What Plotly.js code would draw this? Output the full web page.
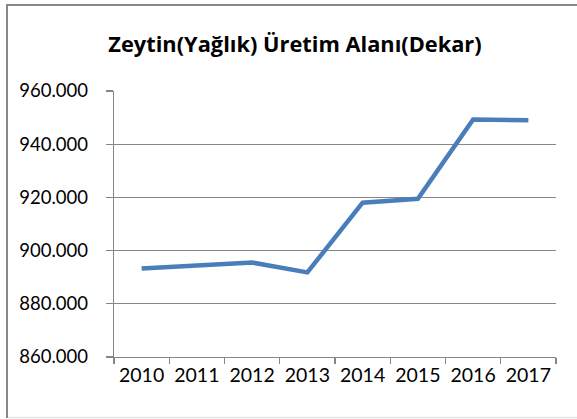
<!DOCTYPE html>
<html>
<head>
<meta charset="utf-8">
<script src="https://cdn.plot.ly/plotly-3.0.1.min.js"></script>
<style>
html,body{margin:0;padding:0;background:#fff;}
#chart{width:577px;height:419px;}
</style>
</head>
<body>
<div id="chart"></div>
<script>
const categories = ["2010","2011","2012","2013","2014","2015","2016","2017"];
const values = [893300, 894400, 895500, 891800, 918000, 919500, 949300, 949000];
const chartTitle = "Zeytin(Yağlık) Üretim Alanı(Dekar)";
const yTicks = [860000, 880000, 900000, 920000, 940000, 960000];

const fontFam = "Lato, 'Open Sans', sans-serif";
const titleFam = "'Open Sans', Lato, sans-serif";
const gridCol = "#868686";

const trace = {
  x: categories,
  y: values,
  type: "scatter",
  mode: "lines",
  line: {color: "#4A7EBB", width: 4.5},
  hoverinfo: "skip"
};

// plot area: x 114..556, y 91..357
const L = 114, R = 21, T = 91, B = 62, W = 577, H = 419;
const pw = W - L - R, ph = H - T - B;
const px = v => (v - L) / pw;
const py = v => (H - B - v) / ph;

const layout = {
  width: W, height: H,
  margin: {l: L, r: R, t: T, b: B, pad: 0},
  paper_bgcolor: "#fff",
  plot_bgcolor: "#fff",
  separators: ",.",
  showlegend: false,
  font: {family: fontFam, color: "#000"},
  title: {
    text: "<b>" + chartTitle + "</b>",
    font: {family: titleFam, size: 21.8, color: "#000", weight: "bold"},
    x: 295 / W, xanchor: "center", xref: "container",
    y: 1 - 44 / H, yanchor: "middle", yref: "container"
  },
  xaxis: {
    type: "category",
    tickson: "boundaries",
    ticks: "outside", ticklen: 6, tickwidth: 1.3, tickcolor: gridCol,
    showline: true, linecolor: gridCol, linewidth: 1.3,
    showgrid: false, zeroline: false,
    tickfont: {family: fontFam, size: 19.5, color: "#000"},
    range: [-0.5, 7.5], fixedrange: true
  },
  yaxis: {
    range: [860000, 960000],
    tickvals: yTicks,
    tickformat: ",.0f",
    ticks: "outside", ticklen: 7, tickwidth: 1.3, tickcolor: gridCol,
    showline: true, linecolor: gridCol, linewidth: 1.3,
    showgrid: true, gridcolor: gridCol, gridwidth: 1.3,
    zeroline: false,
    ticklabelstandoff: 14,
    tickfont: {family: fontFam, size: 18.5, color: "#000"},
    fixedrange: true
  },
  shapes: [
    {type: "line", xref: "paper", yref: "paper",
     x0: px(7), x1: px(7), y0: py(418), y1: py(4),
     line: {color: "#888888", width: 2}, layer: "below"},
    {type: "line", xref: "paper", yref: "paper",
     x0: px(6), x1: px(577), y0: py(5), y1: py(5),
     line: {color: "#888888", width: 2}, layer: "below"},
    {type: "line", xref: "paper", yref: "paper",
     x0: px(8), x1: px(577), y0: py(417.5), y1: py(417.5),
     line: {color: "#e6e6e6", width: 1.5}, layer: "below"}
  ]
};

Plotly.newPlot("chart", [trace], layout, {staticPlot: true, displayModeBar: false});
</script>
</body>
</html>
